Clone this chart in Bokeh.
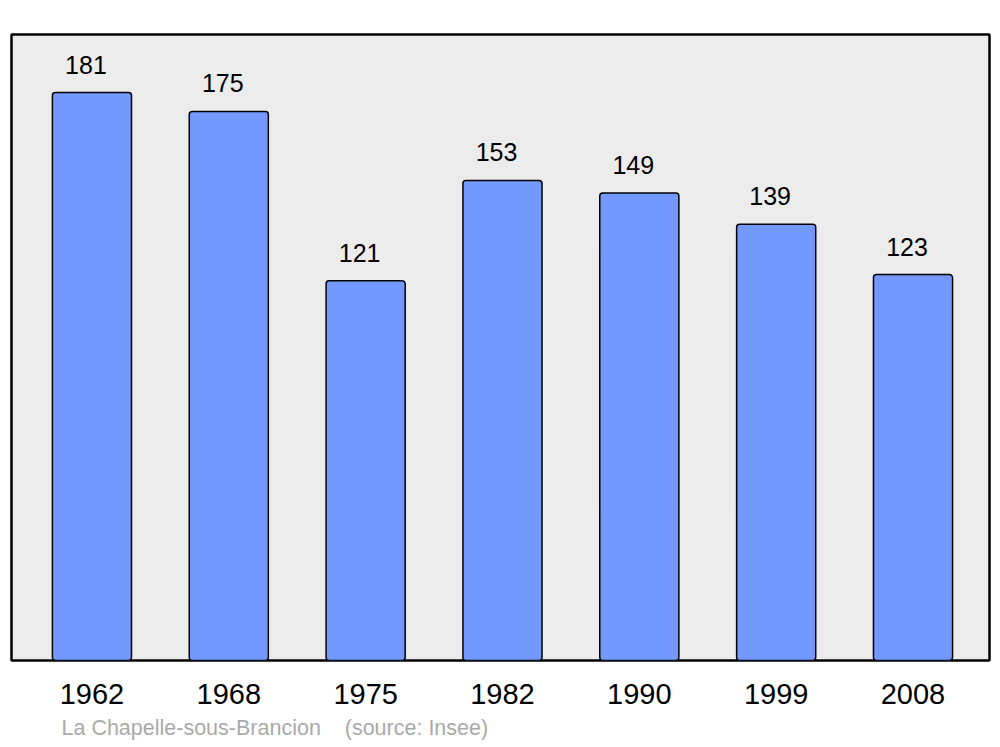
from bokeh.plotting import figure
from bokeh.models import Range1d, FixedTicker, ColumnDataSource, Title
from bokeh.core.properties import value
from bokeh.embed import file_html
from bokeh.resources import INLINE

years = ["1962", "1968", "1975", "1982", "1990", "1999", "2008"]
population = [181, 175, 121, 153, 149, 139, 123]
subtitle = "La Chapelle-sous-Brancion\u00a0\u00a0\u00a0\u00a0(source: Insee)"

idx = list(range(len(years)))
src = ColumnDataSource(dict(x=idx, top=population, lab=[str(v) for v in population]))

p = figure(width=1000, height=747, output_backend="svg", toolbar_location=None,
           x_range=Range1d(-0.588, 6.559), y_range=Range1d(0, 199.5),
           y_axis_location=None, min_border_left=11, min_border_right=11,
           min_border_top=34, min_border_bottom=87)
p.background_fill_color = "#ececec"
p.border_fill_color = "white"
p.outline_line_color = "black"
p.outline_line_width = 2.5
p.grid.visible = False

p.vbar(x="x", top="top", bottom=0, width=0.578, source=src,
       fill_color="#7399ff", line_color="black", line_width=1.5, border_radius=3)
p.text(x="x", y="top", text="lab", source=src, x_offset=-6, y_offset=-19,
       text_align="center", text_baseline="bottom", text_color="black",
       text_font=value("Liberation Sans"), text_font_size="25px")

ax = p.xaxis[0]
ax.ticker = FixedTicker(ticks=idx)
ax.major_label_overrides = {i: y for i, y in zip(idx, years)}
ax.axis_line_color = None
ax.major_tick_line_color = None
ax.minor_tick_line_color = None
ax.major_tick_out = 0
ax.major_tick_in = 0
ax.major_label_standoff = 23
ax.major_label_text_font = "Liberation Sans"
ax.major_label_text_font_size = "29px"
ax.major_label_text_color = "black"

p.add_layout(Title(text=subtitle, align="left", offset=50, standoff=15,
                   text_font="Liberation Sans", text_font_size="21.5px",
                   text_font_style="normal", text_color="#aaaaaa"), "below")

open("out.html", "w").write(file_html(p, INLINE))
